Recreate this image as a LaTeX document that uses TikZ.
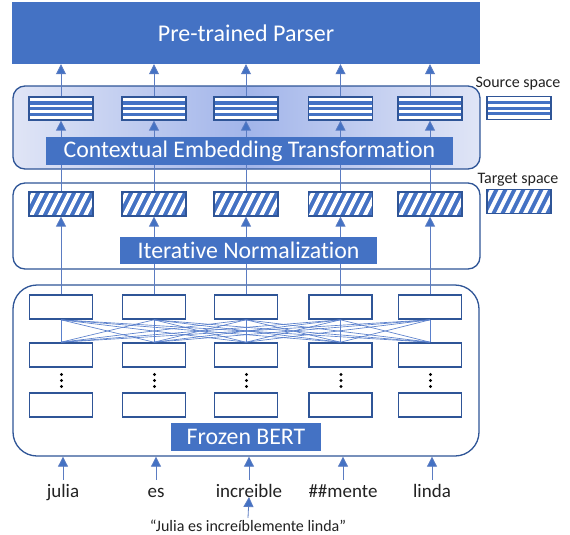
\documentclass[tikz,border=0pt]{standalone}
\usepackage{fontspec}
\setmainfont{Carlito}[Ligatures={NoCommon}]
\usetikzlibrary{arrows.meta}
\definecolor{ob}{HTML}{4472C4}
\definecolor{db}{HTML}{2F5597}
\definecolor{stem}{HTML}{5B7CC2}
\definecolor{conn}{HTML}{5A80CC}
\definecolor{cetlight}{RGB}{224,229,246}
\definecolor{cetdark}{RGB}{162,181,234}
\definecolor{txt}{HTML}{222222}
\tikzset{
  bluelabel/.style={fill=ob, text=white, inner sep=0, font=\fontsize{23.8}{24}\selectfont},
  container/.style={draw=db, line width=1.3pt, rounded corners=12pt, inner sep=0},
  srcbox/.style={draw=db, line width=1.2pt, fill=white, minimum width=64pt, minimum height=23pt, inner sep=0,
    path picture={\foreach \d in {4.3,10.1,15.7}{\fill[ob] ([yshift={-\d*1pt}]path picture bounding box.north west) rectangle ([yshift={-(\d+3.2)*1pt}]path picture bounding box.north east);}}},
  tgtbox/.style={draw=db, line width=1.2pt, fill=ob, minimum width=64pt, minimum height=24pt, inner sep=0,
    path picture={\foreach \i in {-3,...,9}{\draw[white, line width=3.9pt] ([xshift={\i*9pt}, yshift=-28pt]path picture bounding box.north west) -- ++(16pt,32pt);}}},
  bertbox/.style={draw=db, line width=1.6pt, fill=white, minimum width=63pt, minimum height=24pt, inner sep=0},
  arr/.style={draw=stem, line width=0.8pt, -{Triangle[width=10pt,length=10pt,fill=ob]}},
  plainline/.style={draw=stem, line width=0.8pt},
  connline/.style={draw=conn, line width=0.65pt},
  word/.style={anchor=base, text=txt, font=\fontsize{19}{19}\selectfont, inner xsep=0, inner ysep=3pt, text height=14pt, text depth=4pt},
  legend/.style={anchor=base, text=txt, font=\fontsize{16}{16}\selectfont, inner sep=0},
}
\begin{document}
\begin{tikzpicture}[x=1pt,y=-1pt]
\useasboundingbox[fill=white] (0,0) rectangle (570,535);

% parser
\node[bluelabel, minimum width=468pt, minimum height=62pt, font=\fontsize{24}{24}\selectfont] (parser) at (246,33) {Pre-trained Parser};

% containers
\node[container, minimum width=467pt, minimum height=83pt, left color=cetlight, right color=cetlight, middle color=cetdark] (cet) at (246.5,127.5) {};
\node[container, minimum width=467pt, minimum height=86pt] (inorm) at (246.5,226) {};
\node[container, rounded corners=24pt, minimum width=466pt, minimum height=171pt] (bert) at (246,370.5) {};

% legend
\node[legend] (srctxt) at (518,87) {Source space};
\node[srcbox] (srcleg) at (519,108) {};
\node[legend] (tgttxt) at (518,183) {Target space};
\node[tgtbox] (tgtleg) at (519,201.5) {};

% column boxes
\foreach \x [count=\k] in {61,154,246,340.5,430}{
  \node[srcbox] (s\k) at (\x,108.5) {};
  \node[tgtbox] (t\k) at (\x,204) {};
  \node[bertbox] (a\k) at (\x,307) {};
  \node[bertbox] (b\k) at (\x,355) {};
  \node[bertbox] (c\k) at (\x,405) {};
  \fill[black] (\x+0.5,374.5) circle (1.6pt) (\x+0.5,380.5) circle (1.6pt) (\x+0.5,386.5) circle (1.6pt);
}

% BERT interconnections
\foreach \i in {1,...,5}{
  \foreach \j in {1,...,5}{
    \draw[connline] (a\i.south) -- (b\j.north);
  }
}

% vertical connections
\foreach \k in {1,...,5}{
  \draw[arr] (a\k.north) -- (t\k.south);
  \draw[plainline] (t\k.north) -- (t\k.north |- 0,165);
  \draw[arr] (s\k.north) -- (s\k.north |- parser.south);
}

% labels on top
\node[bluelabel, minimum width=407pt, minimum height=28pt] (cetlab) at (249.5,151) {Contextual Embedding Transformation};
\node[bluelabel, minimum width=257pt, minimum height=27pt] (inlab) at (248.5,250.5) {Iterative Normalization};
\node[bluelabel, minimum width=150pt, minimum height=28pt] (bertlab) at (246,437) {Frozen BERT};

\foreach \k in {1,...,5}{
  \draw[arr] (s\k.south |- cetlab.north) -- (s\k.south);
}

% words
\node[word] (w1) at (63,497) {julia};
\node[word] (w2) at (156,497) {es};
\node[word] (w3) at (249,497) {increible};
\node[word] (w4) at (343,497) {\#\#mente};
\node[word] (w5) at (432,497) {linda};
\foreach \k in {1,...,5}{
  \draw[arr] (w\k.north) -- (w\k.north |- bert.south);
}

% sentence
\node[anchor=base, text=txt, font=\fontsize{16}{16}\selectfont, inner sep=0, text height=12pt, inner ysep=1pt] (sent) at (248,531) {“Julia es increíblemente linda”};
\draw[arr] (sent.north) -- (w3.base);
\end{tikzpicture}
\end{document}
